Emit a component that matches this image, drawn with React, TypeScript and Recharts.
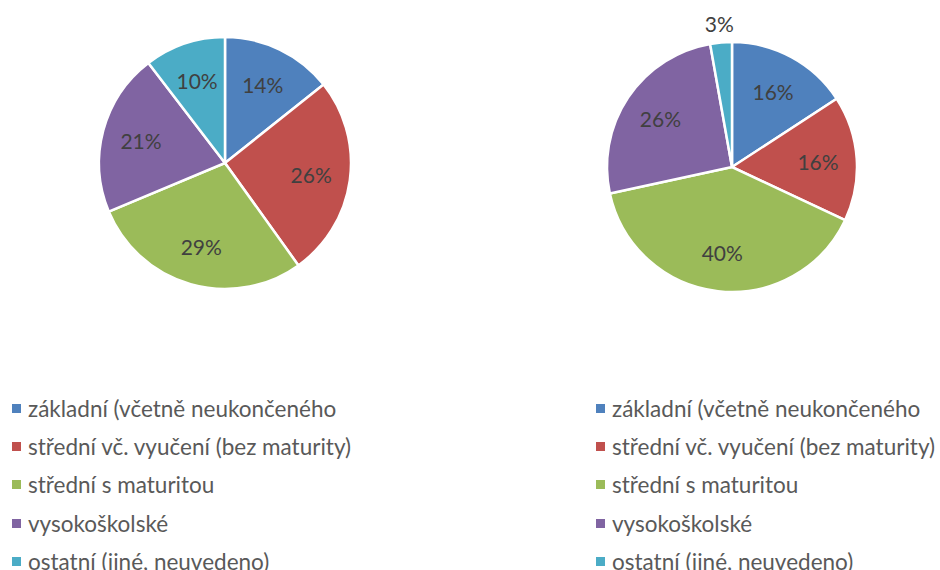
import { PieChart, Pie, Cell } from "recharts";

const categories = [
  "základní (včetně neukončeného",
  "střední vč. vyučení (bez maturity)",
  "střední s maturitou",
  "vysokoškolské",
  "ostatní (jiné, neuvedeno)",
];
const leftValues = [14.3, 25.8, 28.6, 20.9, 10.4];
const rightValues = [15.8, 16.2, 39.6, 25.6, 2.8];
const colors = ["#4F81BD", "#C0504D", "#9BBB59", "#8064A2", "#4BACC6"];

const FONT = "Lato, 'Open Sans', sans-serif";
const RADIAN = Math.PI / 180;

const leftData = categories.map((name, i) => ({ name, value: leftValues[i] }));
const rightData = categories.map((name, i) => ({ name, value: rightValues[i] }));

// percentage label, pushed outside when the slice is tiny
const renderLabel = (props: any) => {
  const { cx, cy, midAngle, outerRadius, percent } = props;
  const r = percent < 0.05 ? outerRadius * 1.15 : outerRadius * 0.69;
  const x = cx + r * Math.cos(-midAngle * RADIAN);
  const y = cy + r * Math.sin(-midAngle * RADIAN);
  return (
    <text
      x={x}
      y={y}
      fill="#404040"
      fontSize={21}
      fontFamily={FONT}
      textAnchor="middle"
      dominantBaseline="central"
    >
      {Math.round(percent * 100)}%
    </text>
  );
};

const LegendBlock = ({ left }: { left: number }) => (
  <div style={{ position: "absolute", left, top: 389 }}>
    {categories.map((c, i) => (
      <div
        key={c}
        style={{
          display: "flex",
          alignItems: "center",
          height: 38.3,
          fontFamily: FONT,
          fontSize: 22.5,
          color: "#595959",
          whiteSpace: "nowrap",
        }}
      >
        <span
          style={{
            width: 9,
            height: 9,
            background: colors[i],
            marginRight: 7,
            display: "inline-block",
          }}
        />
        {c}
      </div>
    ))}
  </div>
);

export default function App() {
  return (
    <div
      style={{
        position: "absolute",
        left: 0,
        top: 0,
        width: 940,
        height: 570,
        background: "#fff",
        overflow: "hidden",
      }}
    >
      <PieChart width={940} height={570} margin={{ top: 0, right: 0, bottom: 0, left: 0 }}>
        <Pie
          data={leftData}
          dataKey="value"
          cx={225}
          cy={163}
          outerRadius={126}
          startAngle={90}
          endAngle={-270}
          stroke="#fff"
          strokeWidth={2.5}
          label={renderLabel}
          labelLine={false}
          isAnimationActive={false}
        >
          {leftData.map((d, i) => (
            <Cell key={d.name} fill={colors[i]} />
          ))}
        </Pie>
        <Pie
          data={rightData}
          dataKey="value"
          cx={732}
          cy={167}
          outerRadius={125}
          startAngle={90}
          endAngle={-270}
          stroke="#fff"
          strokeWidth={2.5}
          label={renderLabel}
          labelLine={false}
          isAnimationActive={false}
        >
          {rightData.map((d, i) => (
            <Cell key={d.name} fill={colors[i]} />
          ))}
        </Pie>
      </PieChart>
      <LegendBlock left={12} />
      <LegendBlock left={596} />
    </div>
  );
}
